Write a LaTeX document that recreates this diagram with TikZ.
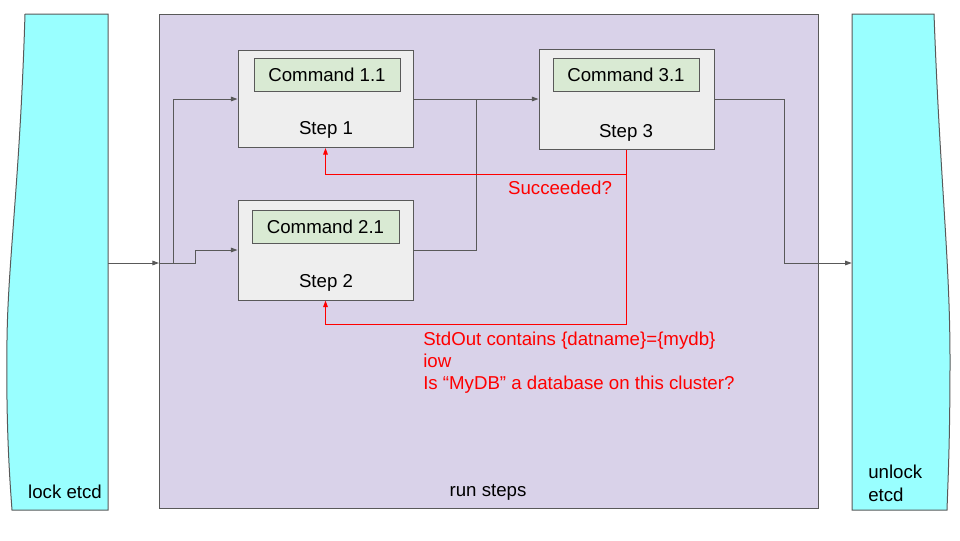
\documentclass[tikz,border=0pt]{standalone}
\usepackage{fontspec}
\setmainfont{Liberation Sans}
\usetikzlibrary{arrows.meta,calc}
\definecolor{edge}{HTML}{595959}
\definecolor{lilac}{HTML}{D9D2E9}
\definecolor{aqua}{HTML}{99FFFF}
\definecolor{stepgray}{HTML}{EEEEEE}
\definecolor{cmdgreen}{HTML}{D9EAD3}
\definecolor{alertred}{HTML}{FF0000}
\begin{document}
\begin{tikzpicture}[x=0.75pt,y=-0.75pt,
    font=\fontsize{14}{16.5}\selectfont,
    shell/.style={draw=edge,line width=0.75pt},
    runbox/.style={shell,fill=lilac,inner sep=0pt,minimum width=659*0.75pt,minimum height=494*0.75pt},
    stepbox/.style={shell,fill=stepgray,inner sep=0pt,minimum width=175*0.75pt,minimum height=97*0.75pt},
    cmdbox/.style={shell,fill=cmdgreen,inner sep=0pt,minimum width=146*0.75pt,minimum height=33*0.75pt},
    bannerbox/.style={inner sep=0pt,minimum width=83*0.75pt,minimum height=496*0.75pt},
    conn/.style={edge,line width=0.75pt,-{Triangle[length=5pt,width=3.5pt]}},
    line/.style={edge,line width=0.75pt},
    alert/.style={alertred,line width=0.75pt,-{Triangle[length=5pt,width=3.5pt]}},
    alerttext/.style={text=alertred,inner sep=0pt}]
    \useasboundingbox (0,0) rectangle (960,540);

    % banners on both sides
    \fill[aqua] (25,14) -- (108,14) -- (108,510) -- (12,510)
        .. controls (9,470) and (6,420) .. (7,340)
        .. controls (8,260) and (20,180) .. (25,14);
    \draw[shell] (25,14) -- (108,14) -- (108,510) -- (12,510)
        .. controls (9,470) and (6,420) .. (7,340)
        .. controls (8,260) and (20,180) .. (25,14);
    \fill[aqua] (852,14) -- (934,14)
        .. controls (940,180) and (950,260) .. (950,360)
        .. controls (950,440) and (948,480) .. (947,510) -- (852,510) -- cycle;
    \draw[shell] (852,14) -- (934,14)
        .. controls (940,180) and (950,260) .. (950,360)
        .. controls (950,440) and (948,480) .. (947,510) -- (852,510) -- cycle;
    \node[bannerbox] (lock) at (66.5,262) {};
    \node[bannerbox] (unlock) at (893.5,262) {};
    \node (locklbl) at (65,492) {lock etcd};
    \node[anchor=north west,align=left,inner sep=0pt,font=\fontsize{14}{17.25}\selectfont] (unlocklbl) at (868,465) {unlock\\etcd};

    % the steps
    \node[runbox] (run) at (488.5,261) {};
    \node (runlbl) at (488,492) {run steps};

    \node[stepbox] (s1) at (325.5,99) {};
    \node[cmdbox] (c1) at (327,74.5) {Command 1.1};
    \node (s1lbl) at (326,130) {Step 1};

    \node[stepbox,minimum height=100*0.75pt] (s2) at (325.5,250) {};
    \node[cmdbox,minimum width=147*0.75pt] (c2) at (325.5,226.5) {Command 2.1};
    \node (s2lbl) at (326,283) {Step 2};

    \node[stepbox,minimum height=100*0.75pt] (s3) at (626.5,99) {};
    \node[cmdbox] (c3) at (626,74.5) {Command 3.1};
    \node (s3lbl) at (626,133) {Step 3};

    \coordinate (in) at (159,263);
    \coordinate (join) at ($(s1.east)!.5!(s3.west)$);

    \draw[conn] (lock.east |- in) -- (in);
    \draw[conn] (in) -- ++(14,0) |- (s1.west);
    \draw[conn] (in) -- ++(36,0) |- (s2.west);
    \draw[conn] (s1.east) -- (s3.west);
    \draw[line] (s2.east) -| (join);
    \draw[conn] (s3.east) -- ++(70,0) |- (unlock.west |- in);

    % checks back to the steps
    \draw[alert] (s3.south) -- ++(0,25) -| (s1.south);
    \draw[alert] (s3.south) -- ++(0,175) -| (s2.south);
    \node[alerttext] (ok) at (560,188) {Succeeded?};
    \node[alerttext,anchor=north west,align=left,font=\fontsize{14}{16.5}\selectfont] (ask) at (423,332)
        {StdOut contains \{datname\}=\{mydb\}\\iow\\Is “MyDB” a database on this cluster?};
\end{tikzpicture}
\end{document}
